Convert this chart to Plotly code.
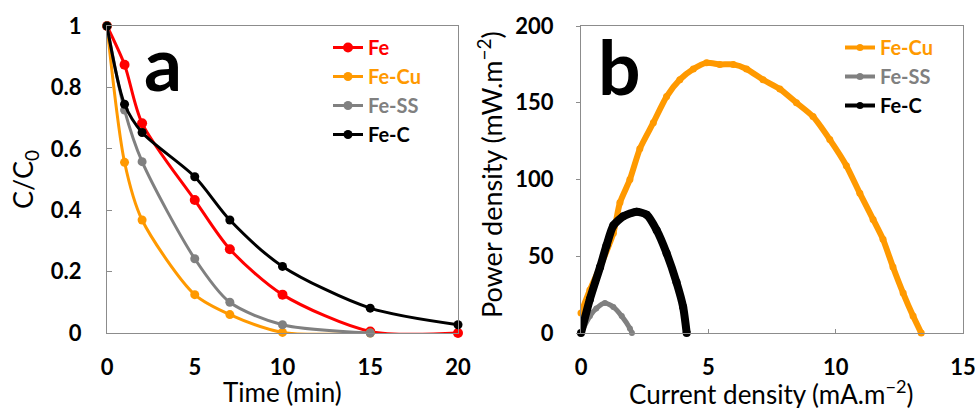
import plotly.graph_objects as go

# ---------- Panel a data ----------
time_min = [0, 1, 2, 5, 7, 10, 15, 20]
fe = [1.0, 0.874, 0.683, 0.433, 0.273, 0.125, 0.005, 0.0]
fe_cu_t = [0, 1, 2, 5, 7, 10, 15]
fe_cu = [1.0, 0.556, 0.368, 0.125, 0.06, 0.002, 0.0]
fe_ss_t = [0, 1, 2, 5, 7, 10, 15]
fe_ss = [1.0, 0.726, 0.558, 0.242, 0.10, 0.027, 0.0]
fe_c = [1.0, 0.745, 0.653, 0.509, 0.368, 0.217, 0.081, 0.027]

# ---------- Panel b data ----------
cu_j = [0.0, 0.35, 0.75, 1.27, 1.53, 1.92, 2.31, 2.84, 3.36, 3.88, 4.41, 4.93, 5.45,
        5.98, 6.5, 7.15, 7.81, 8.46, 9.11, 9.77, 10.42, 10.95, 11.47, 11.86, 12.25,
        12.65, 13.04, 13.36]
cu_p = [13, 28, 43, 65, 85, 100, 120, 137, 154, 165, 172, 176, 175,
        175, 172, 165, 159, 150, 141, 126, 109, 91, 74, 61, 43,
        26, 11, 0]
c_j = [0.0, 0.35, 0.75, 1.0, 1.27, 1.66, 2.18, 2.58, 2.97, 3.36, 3.75, 4.01, 4.15]
c_p = [0, 22, 43, 57, 70, 76, 79, 77, 67, 52, 33, 17, 0]
ss_j = [0.0, 0.35, 0.6, 0.94, 1.27, 1.6, 1.92, 2.0]
ss_p = [0, 11, 16, 19.5, 17, 11, 3, 0]

RED = "#FF0000"
ORANGE = "#FF9900"
GRAY = "#808080"
BLACK = "#000000"
FONT = "Lato"

W, H = 975, 408


def px(x):
    return x / W


def py(y):
    return 1 - y / H


fig = go.Figure()


def name(txt, col):
    return f"<span style='color:{col}'>{txt}</span>"


# Panel a traces
for xs, ys, nm, col, ms in [
    (time_min, fe, "Fe", RED, 10),
    (fe_cu_t, fe_cu, "Fe-Cu", ORANGE, 9),
    (fe_ss_t, fe_ss, "Fe-SS", GRAY, 9),
    (time_min, fe_c, "Fe-C", BLACK, 9),
]:
    fig.add_trace(go.Scatter(
        x=xs, y=ys, name=name(nm, col), mode="lines+markers",
        line=dict(color=col, width=3, shape="spline", smoothing=0.8),
        marker=dict(color=col, size=ms), cliponaxis=False,
        xaxis="x", yaxis="y", legend="legend"))

# Panel b traces
for xs, ys, nm, col, lw, ms in [
    (cu_j, cu_p, "Fe-Cu", ORANGE, 6, 7),
    (ss_j, ss_p, "Fe-SS", GRAY, 5, 6),
    (c_j, c_p, "Fe-C", BLACK, 8, 8),
]:
    fig.add_trace(go.Scatter(
        x=xs, y=ys, name=name(nm, col), mode="lines+markers",
        line=dict(color=col, width=lw, shape="spline", smoothing=0.6),
        marker=dict(color=col, size=ms), cliponaxis=False, showlegend=False,
        xaxis="x2", yaxis="y2"))
    # legend-only entry with a thinner symbol
    fig.add_trace(go.Scatter(
        x=[None], y=[None], name=name(nm, col), mode="lines+markers",
        line=dict(color=col, width=4), marker=dict(color=col, size=7),
        xaxis="x2", yaxis="y2", legend="legend2"))

ydom = [py(333), py(26)]
axis_common = dict(showgrid=False, zeroline=False, showline=True, mirror=True,
                   automargin=False, ticklabeloverflow="allow",
                   linecolor="#8c8c8c", linewidth=1,
                   tickfont=dict(family=FONT, size=22, color="black", weight="bold"))

fig.update_layout(
    template="none",
    width=W, height=H, margin=dict(l=0, r=0, t=0, b=0, autoexpand=False),
    paper_bgcolor="white", plot_bgcolor="white",
    xaxis=dict(domain=[px(107), px(458)], range=[0, 20], tickvals=[0, 5, 10, 15, 20],
               ticks="", ticklabelstandoff=15, anchor="y", **axis_common),
    yaxis=dict(domain=ydom, range=[0, 1], tickvals=[0, 0.2, 0.4, 0.6, 0.8, 1],
               ticktext=["0", "0.2", "0.4", "0.6", "0.8", "1"],
               ticks="inside", ticklen=5, tickcolor="#8c8c8c",
               ticklabelstandoff=20, anchor="x", **axis_common),
    xaxis2=dict(domain=[px(581), px(963)], range=[0, 15], tickvals=[0, 5, 10, 15],
                ticks="inside", ticklen=4, tickcolor="#8c8c8c",
                ticklabelstandoff=15, anchor="y2", **axis_common),
    yaxis2=dict(domain=ydom, range=[0, 200], tickvals=[0, 50, 100, 150, 200],
                ticks="outside", ticklen=4, tickcolor="#8c8c8c",
                ticklabelstandoff=18, anchor="x2", **axis_common),
    legend=dict(x=px(328), y=py(28), xanchor="left", yanchor="top",
                bgcolor="rgba(0,0,0,0)", tracegroupgap=0, itemwidth=30,
                font=dict(family=FONT, size=20, weight="bold")),
    legend2=dict(x=px(840), y=py(28), xanchor="left", yanchor="top",
                 bgcolor="rgba(0,0,0,0)", tracegroupgap=0, itemwidth=30,
                 font=dict(family=FONT, size=20, weight="bold")),
    showlegend=True,
)

ann = [
    dict(text="Time (min)", x=px(282), y=py(392), size=26),
    dict(text="Current density (mA.m<sup>−2</sup>)", x=px(771), y=py(392), size=26),
    dict(text="C/C<sub>0</sub>", x=px(24), y=py(180), size=27, angle=-90),
    dict(text="Power density (mW.m<sup>−2</sup>)", x=px(490), y=py(175), size=27, angle=-90),
]
for a in ann:
    fig.add_annotation(text=a["text"], x=a["x"], y=a["y"], xref="paper", yref="paper",
                       xanchor="center", yanchor="middle", showarrow=False,
                       textangle=a.get("angle", 0),
                       font=dict(family=FONT, size=a["size"], color="black"))

for txt, x, y in [("a", 163, 62), ("b", 619, 66)]:
    fig.add_annotation(text=txt, x=px(x), y=py(y), xref="paper", yref="paper",
                       xanchor="center", yanchor="middle", showarrow=False,
                       font=dict(family=FONT, size=75, color="black", weight="bold"))

fig.write_html(
    "out.html",
    config={"displayModeBar": False},
    post_script="document.body.style.margin='0';document.body.style.overflow='hidden';",
)
